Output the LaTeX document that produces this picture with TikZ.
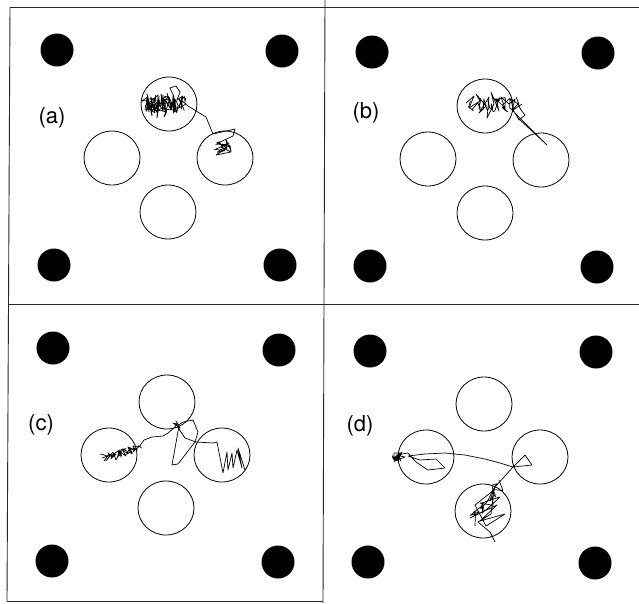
\documentclass[tikz,border=0pt]{standalone}
\usepackage{fontspec}
\setmainfont{TeX Gyre Heros}
\begin{document}
\begin{tikzpicture}[x=1pt,y=-1pt,
  frameline/.style={line width=0.9pt, draw=black!85},
  pillar/.style={fill=black},
  ring/.style={draw=black, line width=0.8pt},
  trail/.style={draw=black, line width=0.7pt, line join=round},
  tag/.style={font=\fontsize{22}{24}\selectfont, inner sep=0pt}]
\useasboundingbox (0,0) rectangle (639,603);
\fill[white] (0,0) rectangle (639,603);
% frames
\draw[frameline] (10,7) -- (639,7);
\draw[frameline] (8,304) -- (639,304);
\draw[frameline] (325,0) -- (323,603);
\draw[frameline] (10,7) -- (7,601);
\draw[frameline] (7,601) -- (323,601);
% panel a
\foreach \p in {(57,50),(282,51),(54,265),(280,265)} \fill[pillar] \p circle[radius=16.5];
\foreach \p in {(169,104),(112,158),(225,158),(168,212)} \draw[ring] \p ellipse[x radius=28, y radius=27];
\node[tag] (la) at (52,118) {(a)};
\draw[trail] (146,98) -- (149,112) -- (147,94) -- (152,116) -- (151,97) -- (155,113) -- (145,106) -- (158,95) -- (157,118) -- (160,100) -- (148,109) -- (163,111) -- (161,94) -- (166,113) -- (164,117) -- (169,101) -- (167,93) -- (172,110) -- (171,102) -- (175,112) -- (174,97) -- (170,88) -- (176,86) -- (180,92) -- (177,100) -- (183,96) -- (179,108) -- (186,104) -- (181,100) -- (188,106) -- (206,117) -- (213,134) -- (235,129) -- (233,136) -- (218,143) -- (227,148) -- (216,155) -- (231,152) -- (221,147) -- (229,143) -- (214,150);
\pgfmathsetseed{3}
\draw[trail] plot[samples=80, domain=0:1, variable=\t] ({145+40*\t+5*rand},{104+9*rand});
\draw[trail] plot[samples=16, domain=0:1, variable=\t] ({224+9*rand},{146+7*rand});
% panel b
\foreach \p in {(372,52),(598,53),(370,266),(597,267)} \fill[pillar] \p circle[radius=16.5];
\foreach \p in {(485,106),(428,159),(541,160),(485,213)} \draw[ring] \p ellipse[x radius=28, y radius=27];
\node[tag] (lb) at (366,113) {(b)};
\draw[trail] (466,103) -- (474,96) -- (469,108) -- (480,101) -- (476,94) -- (486,106) -- (479,113) -- (489,97) -- (487,118) -- (494,104) -- (491,92) -- (499,111) -- (496,99) -- (505,108) -- (501,97) -- (509,104) -- (515,99) -- (512,110) -- (518,104) -- (521,110) -- (525,115) -- (519,120) -- (515,113) -- (547,145) -- (518,118) -- (513,110) -- (522,104);
\pgfmathsetseed{11}
\draw[trail] plot[samples=40, domain=0:1, variable=\t] ({468+48*\t+5*rand},{105+8*rand});
% panel c
\foreach \p in {(53,348),(279,350),(52,561),(278,562)} \fill[pillar] \p circle[radius=16.5];
\foreach \p in {(167,402),(109,455),(222,455),(166,508)} \draw[ring] \p ellipse[x radius=28, y radius=27];
\node[tag] (lc) at (41,425) {(c)};
\draw[trail] (102,458) -- (110,455) -- (106,461) -- (113,452) -- (116,460) -- (120,452) -- (126,456) -- (122,449) -- (131,453) -- (128,447) -- (135,450) -- (133,446) -- (139,447) -- (144,440) -- (152,437) -- (163,436) -- (168,433) -- (174,428) -- (177,424) -- (173,423) -- (180,428) -- (176,421) -- (179,426) -- (172,465) -- (178,464) -- (195,442) -- (198,432) -- (193,420) -- (183,422) -- (177,426) -- (185,438) -- (196,442) -- (213,443) -- (217,442) -- (223,473) -- (227,452) -- (228,470) -- (232,453) -- (233,468) -- (237,450) -- (242,468) -- (238,448) -- (245,470);
\pgfmathsetseed{5}
\draw[trail] plot[samples=40, domain=0:1, variable=\t] ({103+36*\t+3*rand},{458-10*\t+4*rand});
% panel d
\foreach \p in {(370,351),(596,352),(368,562),(595,563)} \fill[pillar] \p circle[radius=16.5];
\foreach \p in {(484,404),(426,457),(540,457),(483,511)} \draw[ring] \p ellipse[x radius=28, y radius=27];
\node[tag] (ld) at (360,426) {(d)};
\draw[trail] (392,458) -- (400,455) -- (394,462) -- (402,452) -- (397,460) -- (405,457) -- (396,455) -- (408,453) -- (416,462) -- (428,470) -- (445,468) -- (436,459) -- (420,460) -- (408,456) -- (425,454) -- (445,453) -- (465,455) -- (485,459) -- (500,463) -- (513,467) -- (532,465) -- (525,455) -- (513,467) -- (495,487) -- (490,500) -- (500,497) -- (486,510) -- (470,518) -- (497,505) -- (480,521) -- (505,514) -- (486,526) -- (475,505) -- (494,490) -- (491,514) -- (478,522) -- (490,532) -- (495,542);
\pgfmathsetseed{7}
\draw[trail] plot[samples=20, domain=0:1, variable=\t] ({397+5*rand},{457+4*rand});
\draw[trail] plot[samples=28, domain=0:1, variable=\t] ({474+24*\t+7*rand},{520-36*\t+6*rand});
\end{tikzpicture}
\end{document}
